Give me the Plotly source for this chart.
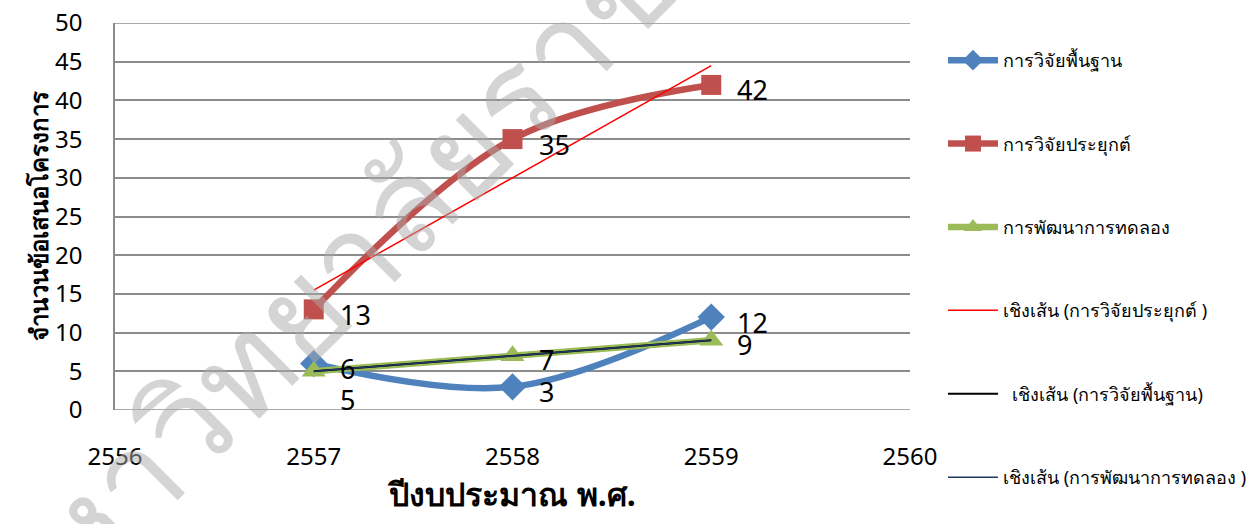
import plotly.graph_objects as go
import numpy as np

years = [2557, 2558, 2559]
basic = [6, 3, 12]
applied = [13, 35, 42]
experimental = [5, 7, 9]

y_ticks = [0, 5, 10, 15, 20, 25, 30, 35, 40, 45, 50]
x_ticks = [2556, 2557, 2558, 2559, 2560]

name_basic = "การวิจัยพื้นฐาน"
name_applied = "การวิจัยประยุกต์"
name_exp = "การพัฒนาการทดลอง"
name_tr_applied = "เชิงเส้น (การวิจัยประยุกต์ )"
name_tr_basic = "  เชิงเส้น (การวิจัยพื้นฐาน)"
name_tr_exp = "เชิงเส้น (การพัฒนาการทดลอง )"

x_title = "ปีงบประมาณ พ.ศ."
y_title = "จำนวนข้อเสนอโครงการ"
watermark = "มหาวิทยาลัยราชภัฏ"

FONT = "Noto Sans"
NUMFONT = "Noto Sans"

def linfit(xs, ys):
    a, b = np.polyfit(xs, ys, 1)
    return [a * x + b for x in xs]

fig = go.Figure()

# watermark (behind data)
fig.add_annotation(xref="paper", yref="paper", x=0.33, y=0.47, text=watermark, showarrow=False,
                   xanchor="center", yanchor="middle", textangle=-45,
                   font=dict(family=FONT, size=130, color="rgba(170,170,170,0.5)"))

fig.add_trace(go.Scatter(x=years, y=basic, name=name_basic, mode="lines+markers",
                         line=dict(color="#4F81BD", width=6.5, shape="spline", smoothing=1.0),
                         marker=dict(symbol="diamond", size=21, color="#4F81BD"),
                         legendgroup="a"))
fig.add_trace(go.Scatter(x=years, y=applied, name=name_applied, mode="lines+markers",
                         line=dict(color="#C0504D", width=6.5, shape="spline", smoothing=1.0),
                         marker=dict(symbol="square", size=20, color="#C0504D"),
                         legendgroup="b"))
fig.add_trace(go.Scatter(x=years, y=experimental, name=name_exp, mode="lines+markers",
                         line=dict(color="#9BBB59", width=6.5, shape="spline", smoothing=1.0),
                         marker=dict(symbol="triangle-up", size=21, color="#9BBB59"),
                         legendgroup="c"))
fig.add_trace(go.Scatter(x=years, y=linfit(years, applied), name=name_tr_applied, mode="lines",
                         line=dict(color="#FF0000", width=1.5), legendgroup="d"))
fig.add_trace(go.Scatter(x=years, y=linfit(years, experimental), name=name_tr_basic, mode="lines",
                         line=dict(color="#000000", width=2), legendgroup="e"))
fig.add_trace(go.Scatter(x=years, y=linfit(years, experimental), name=name_tr_exp, mode="lines",
                         line=dict(color="#1F3864", width=1.5), legendgroup="f"))

# data labels
for series in (basic, applied):
    for xv, yv in zip(years, series):
        fig.add_annotation(x=xv, y=yv, text=str(yv), showarrow=False, xanchor="left",
                           yanchor="middle", xshift=24, yshift=-5,
                           font=dict(family=NUMFONT, size=27, color="#000000"))
for i, (xv, yv) in enumerate(zip(years, experimental)):
    fig.add_annotation(x=xv, y=yv, text=str(yv), showarrow=False, xanchor="left",
                       yanchor="middle", xshift=24, yshift=(-28 if i == 0 else -4),
                       font=dict(family=NUMFONT, size=27, color="#000000"))

fig.update_layout(
    width=1256, height=524,
    margin=dict(l=115, r=346, t=23, b=114, autoexpand=False),
    paper_bgcolor="white", plot_bgcolor="white",
    font=dict(family=FONT, size=20, color="#000000"),
    showlegend=True,
    legend=dict(x=1.0415, y=0.951, xanchor="left", yanchor="top",
                font=dict(family=FONT, size=18, color="#000000"),
                tracegroupgap=57, itemwidth=50, bgcolor="rgba(0,0,0,0)", maxheight=600),
    xaxis=dict(range=[2556, 2560], tickmode="array", tickvals=x_ticks, showgrid=False, zeroline=False,
               showline=False, ticks="", ticklabelstandoff=30, automargin=False,
               tickfont=dict(family=NUMFONT, size=24),
               title=dict(text="<b>" + x_title + "</b>", font=dict(family=FONT, size=32), standoff=10)),
    yaxis=dict(range=[0, 50], tickmode="array", tickvals=y_ticks, showgrid=True, gridcolor="#8C8C8C", gridwidth=1.5,
               zeroline=False, showline=True, linecolor="#8C8C8C", linewidth=1.5, automargin=False,
               ticks="", ticklabelstandoff=26, tickfont=dict(family=NUMFONT, size=24),
               title=dict(text="<b>" + y_title + "</b>", font=dict(family=FONT, size=24), standoff=0)),
)
fig.add_hline(y=0, line=dict(color="#8C8C8C", width=1.5), layer="below")
fig.add_hline(y=50, line=dict(color="#8C8C8C", width=1.5), layer="below")

fig.write_html("out.html", config={"displayModeBar": False},
               post_script="document.body.style.margin='0';document.body.style.overflow='hidden';")
